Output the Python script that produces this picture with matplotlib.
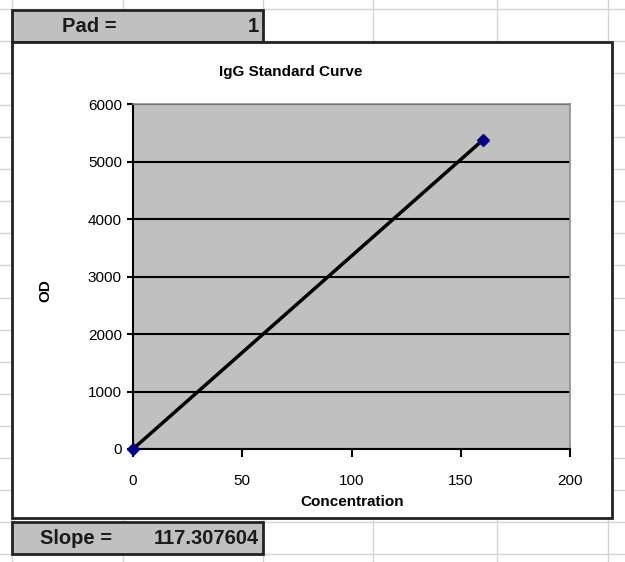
import matplotlib
matplotlib.use("Agg")
import matplotlib.pyplot as plt
from matplotlib.patches import Rectangle
from matplotlib.lines import Line2D

# data
conc = [0, 160]
od = [0, 5370]
x_ticks = [0, 50, 100, 150, 200]
y_ticks = [0, 1000, 2000, 3000, 4000, 5000, 6000]
title = "IgG Standard Curve"
pad_label, pad_value = "Pad =", "1"
slope_label, slope_value = "Slope =", "117.307604"

W, H = 625, 562
plt.rcParams['font.family'] = ['Liberation Sans', 'DejaVu Sans']

fig = plt.figure(figsize=(W / 100, H / 100), dpi=100)
fig.patch.set_facecolor("white")


def fx(px):
    return px / W


def fy(py):
    return 1 - py / H


# spreadsheet grid behind everything
row_lines = [9 + 32.06 * k for k in range(18)]
col_lines = [12, 123, 263, 373, 497, 608]
for y in row_lines:
    fig.add_artist(Line2D([0, 1], [fy(y), fy(y)], transform=fig.transFigure,
                          color="#d4d4d4", lw=1, zorder=0))
for x in col_lines:
    fig.add_artist(Line2D([fx(x), fx(x)], [0, 1], transform=fig.transFigure,
                          color="#d4d4d4", lw=1, zorder=0))

# cells with Pad / Slope
for top, lab, val, lab_x in [(10, pad_label, pad_value, 62), (522, slope_label, slope_value, 40)]:
    fig.add_artist(Rectangle((fx(12), fy(top + 32)), fx(251), 32 / H, transform=fig.transFigure,
                             facecolor="#c0c0c0", edgecolor="#222222", lw=2, zorder=1))
    fig.text(fx(lab_x), fy(top + 16), lab, ha="left", va="center", fontsize=14.5,
             fontweight="bold", color="#1a1a1a", zorder=2)
    fig.text(fx(259), fy(top + 16), val, ha="right", va="center", fontsize=14.5,
             fontweight="bold", color="#1a1a1a", zorder=2)

# chart area frame
fig.add_artist(Rectangle((fx(12), fy(518)), fx(600), 476 / H, transform=fig.transFigure,
                         facecolor="white", edgecolor="#222222", lw=2, zorder=1))

ax = fig.add_axes([fx(133), fy(449), fx(437), 345 / H], zorder=3)
ax.set_facecolor("#c0c0c0")
ax.set_xlim(0, 200)
ax.set_ylim(0, 6000)
ax.set_xticks(x_ticks)
ax.set_yticks(y_ticks)
ax.grid(axis="y", color="black", lw=1.5)
ax.set_axisbelow(True)
for s in ["top", "right"]:
    ax.spines[s].set_color("#8c8c8c")
    ax.spines[s].set_linewidth(1.2)
for s in ["left", "bottom"]:
    ax.spines[s].set_color("black")
    ax.spines[s].set_linewidth(1.5)
ax.tick_params(axis="x", direction="out", length=6, width=1.5, labelsize=11, pad=12)
ax.tick_params(axis="y", direction="out", length=4, width=1.5, labelsize=11, pad=4)

ax.plot(conc, od, color="black", lw=2.5, zorder=4, clip_on=False)
ax.plot(conc, od, ls="none", marker="D", ms=6, color="#000080", zorder=5, clip_on=False)

fig.text(fx(291), fy(72), title, ha="center", va="center", fontsize=11, fontweight="bold")
fig.text(fx(352), fy(502), "Concentration", ha="center", va="center", fontsize=11, fontweight="bold")
fig.text(fx(45), fy(291), "OD", ha="center", va="center", rotation=90, fontsize=11, fontweight="bold")

fig.savefig("out.png", dpi=100)
